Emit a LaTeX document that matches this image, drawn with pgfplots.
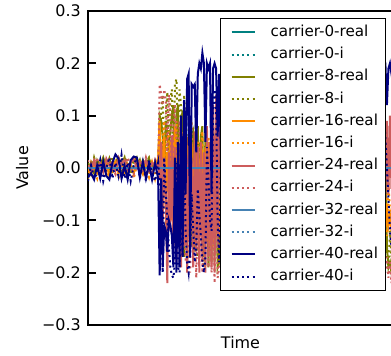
\documentclass[border=0pt]{standalone}
\usepackage{pgfplots}
\pgfplotsset{compat=1.18}
\usepackage{fontspec}
\setmainfont{DejaVu Sans}
\definecolor{cteal}{RGB}{0,128,128}
\definecolor{colive}{RGB}{128,128,0}
\definecolor{corange}{RGB}{255,140,0}
\definecolor{cred}{RGB}{205,92,92}
\definecolor{csteel}{RGB}{70,130,180}
\definecolor{cnavy}{RGB}{0,0,128}
\begin{document}
\begin{tikzpicture}
\useasboundingbox (0,0) rectangle (391bp,356bp);
\clip (0,0) rectangle (391bp,356bp);
\begin{axis}[
  at={(88bp,31bp)}, anchor=south west,
  scale only axis, width=305bp, height=314bp,
  xmin=0, xmax=100, ymin=-0.3, ymax=0.3,
  xtick=\empty,
  ytick={-0.3,-0.2,-0.1,0,0.1,0.2,0.3},
  yticklabels={−0.3,−0.2,−0.1,0.0,0.1,0.2,0.3},
  ytick pos=left,
  tick align=inside,
  major tick length=8bp,
  every tick/.style={black, line width=2bp},
  axis line style={line width=2.7bp},
  ticklabel style={font=\fontsize{16}{19}\selectfont},
  yticklabel style={inner sep=0pt, xshift=-7bp},
  xlabel={Time}, ylabel={Value},
  every axis x label/.style={at={(axis description cs:0.5,-0.057)}, anchor=center, font=\fontsize{16}{19}\selectfont},
  every axis y label/.style={at={(axis description cs:-0.216,0.5)}, rotate=90, anchor=center, font=\fontsize{16}{19}\selectfont},
  legend cell align=left,
  legend style={at={(0.975,0.978)}, anchor=north east, draw=black, line width=0.8bp, fill=white,
    font=\fontsize{15.2}{18}\selectfont, inner xsep=4bp, inner ysep=3bp, row sep=0pt,
    /tikz/every odd column/.append style={column sep=12bp},
    nodes={inner xsep=3bp, inner ysep=3.1bp, text height=12bp, text depth=4bp}},
  legend image code/.code={\path (0bp,0bp); \draw[#1] (6bp,0bp) -- (29bp,0bp);},
  real/.style={line width=2bp},
  imag/.style={line width=2bp, dash pattern=on 2bp off 3.3bp},
]
\addplot[real, cteal] coordinates {(0,0) (100,0)};
\addlegendentry{carrier-0-real}
\addplot[imag, cteal] coordinates {(0,0) (100,0)};
\addlegendentry{carrier-0-i}
\addplot[real, colive] coordinates {
(0,-0.005) (1,0.01) (2,-0.01) (3,0.015) (4,0.005) (5,0.02) (6,0.0) (7,0.018) (8,-0.005) (9,0.012) (10,0.02) (11,0.005) (12,0.02) (13,-0.005) (14,0.012) (15,0.01) (16,0.02) (17,0.0) (18,0.015) (19,0.005) (20,0.018) (21,0.0) (22,0.01) (23,0.0)
(23.5,0.10) (24,0.09) (24.5,0.06) (25,-0.02) (25.5,0.09) (26,0.06) (26.5,0.04) (27,0.07) (27.5,0.10) (28,0.12) (28.5,-0.1) (29,0.10) (29.5,0.12) (30,-0.15) (30.5,0.08) (31,0.11) (31.5,-0.17) (32,0.05) (32.5,-0.19) (33,0.03) (33.5,-0.05) (34,0.06) (34.5,0.07) (35,-0.16) (35.5,0.05) (36,0.08) (36.5,-0.12) (37,0.06) (37.5,0.08) (38,-0.17) (38.5,0.07) (39,0.06) (39.5,-0.19) (40,0.02) (40.5,-0.18) (41,0.09) (41.5,-0.1) (42,0.08) (42.5,-0.19) (43,-0.18)
(44,0.1) (46,-0.15) (48,0.12) (50,-0.19) (52,0.06) (54,0.1) (56,-0.18) (58,0.08) (60,-0.12) (62,0.14) (64,-0.19) (66,0.05) (68,-0.1) (70,0.12) (72,-0.18) (74,0.09) (76,-0.05) (78,0.13) (80,-0.19) (82,0.07) (84,-0.16) (86,0.11) (88,-0.08) (90,0.1) (92,-0.19) (94,0.06) (96,0.08) (97,0.09) (97.5,0.07) (98,-0.15) (98.5,-0.19) (99,-0.18) (99.5,-0.2) (100,-0.17)};
\addlegendentry{carrier-8-real}
\addplot[imag, colive] coordinates {
(0,0.01) (1,-0.01) (2,0.02) (3,0.0) (4,-0.015) (5,0.015) (6,0.005) (7,-0.01) (8,0.02) (9,0.0) (10,0.015) (11,-0.005) (12,0.02) (13,0.01) (14,-0.01) (15,0.018) (16,0.0) (17,0.015) (18,-0.012) (19,0.01) (20,0.02) (21,-0.005) (22,0.012) (23,0.0)
(23.5,0.05) (24,0.11) (24.5,0.14) (25,-0.05) (25.5,0.10) (26,0.145) (26.5,0.02) (27,0.13) (27.5,0.15) (28,-0.08) (28.5,0.16) (29,0.17) (29.5,0.06) (30,0.15) (30.5,0.12) (31,-0.12) (31.5,0.14) (32,0.08) (32.5,-0.18) (33,0.10) (33.5,0.03) (34,-0.15) (34.5,0.04) (35,-0.1) (35.5,0.0) (36,-0.17) (36.5,0.05) (37,-0.12) (37.5,0.02) (38,-0.19) (38.5,-0.05) (39,0.03) (39.5,-0.16) (40,0.01) (40.5,-0.12) (41,0.05) (41.5,-0.18) (42,0.02) (42.5,-0.1) (43,0.04)
(44,-0.12) (46,0.15) (48,-0.05) (50,0.1) (52,-0.17) (54,0.04) (56,0.13) (58,-0.19) (60,0.08) (62,-0.02) (64,0.16) (66,-0.14) (68,0.06) (70,-0.18) (72,0.11) (74,-0.06) (76,0.15) (78,-0.16) (80,0.03) (82,0.12) (84,-0.19) (86,0.05) (88,0.14) (90,-0.12) (92,0.08) (94,-0.17) (96,0.1) (97,-0.14) (97.5,-0.18) (98,-0.16) (98.5,-0.19) (99,-0.12) (99.5,-0.17) (100,-0.1)};
\addlegendentry{carrier-8-i}
\addplot[real, corange] coordinates {
(0,0.0) (1,-0.012) (2,0.005) (3,-0.01) (4,0.008) (5,-0.005) (6,0.01) (7,-0.015) (8,0.0) (9,0.012) (10,-0.01) (11,0.005) (12,-0.012) (13,0.008) (14,0.0) (15,-0.01) (16,0.012) (17,0.0) (18,-0.012) (19,0.01) (20,-0.005) (21,0.012) (22,0.0) (23,0.02)
(23.5,0.09) (24,-0.03) (24.5,0.02) (25,0.06) (25.5,-0.08) (26,0.03) (26.5,-0.05) (27,0.05) (27.5,-0.1) (28,0.02) (28.5,0.08) (29,-0.06) (29.5,0.05) (30,-0.12) (30.5,0.02) (31,0.04) (31.5,-0.08) (32,0.03) (32.5,0.06) (33,-0.11) (33.5,0.02) (34,0.05) (34.5,-0.13) (35,0.04) (35.5,-0.02) (36,0.03) (36.5,-0.09) (37,0.05) (37.5,0.02) (38,-0.12) (38.5,0.04) (39,-0.03) (39.5,0.05) (40,-0.15) (40.5,0.03) (41,-0.06) (41.5,0.04) (42,0.02) (42.5,-0.13) (43,0.03)
(44,0.04) (46,-0.12) (48,0.06) (50,-0.03) (52,0.05) (54,-0.14) (56,0.02) (58,0.07) (60,-0.1) (62,0.03) (64,-0.06) (66,0.05) (68,-0.15) (70,0.04) (72,0.01) (74,-0.11) (76,0.06) (78,-0.04) (80,0.03) (82,-0.13) (84,0.05) (86,-0.07) (88,0.04) (90,-0.12) (92,0.02) (94,0.06) (96,-0.08) (97,-0.06) (97.5,-0.12) (98,-0.07) (98.5,-0.11) (99,-0.09) (99.5,-0.12) (100,-0.05)};
\addlegendentry{carrier-16-real}
\addplot[imag, corange] coordinates {
(0,-0.02) (1,0.01) (2,-0.005) (3,-0.02) (4,0.012) (5,0.0) (6,-0.018) (7,0.01) (8,-0.012) (9,0.005) (10,-0.02) (11,0.012) (12,0.0) (13,-0.015) (14,0.01) (15,-0.02) (16,0.005) (17,0.012) (18,-0.01) (19,0.0) (20,-0.018) (21,0.01) (22,-0.02) (23,0.01)
(23.5,0.08) (24,-0.05) (24.5,0.06) (25,0.09) (25.5,-0.12) (26,0.05) (26.5,0.07) (27,-0.08) (27.5,0.06) (28,-0.15) (28.5,0.04) (29,0.09) (29.5,-0.1) (30,0.03) (30.5,-0.14) (31,0.07) (31.5,0.01) (32,-0.12) (32.5,0.05) (33,-0.08) (33.5,0.04) (34,0.09) (34.5,-0.15) (35,0.02) (35.5,-0.06) (36,0.05) (36.5,-0.12) (37,0.03) (37.5,0.07) (38,-0.1) (38.5,0.02) (39,-0.14) (39.5,0.06) (40,-0.05) (40.5,0.03) (41,-0.15) (41.5,0.05) (42,-0.1) (42.5,0.02) (43,-0.13)
(44,0.06) (46,-0.09) (48,0.03) (50,-0.14) (52,0.08) (54,-0.02) (56,-0.12) (58,0.05) (60,-0.07) (62,0.09) (64,-0.15) (66,0.02) (68,0.06) (70,-0.11) (72,0.04) (74,-0.13) (76,0.07) (78,-0.05) (80,0.08) (82,-0.1) (84,0.03) (86,-0.14) (88,0.06) (90,-0.04) (92,0.09) (94,-0.12) (96,0.04) (97,-0.1) (97.5,-0.05) (98,-0.13) (98.5,-0.02) (99,-0.08) (99.5,-0.11) (100,-0.03)};
\addlegendentry{carrier-16-i}
\addplot[real, cred] coordinates {
(0,0.005) (1,-0.005) (2,0.015) (3,0.0) (4,0.01) (5,-0.008) (6,0.018) (7,0.005) (8,0.012) (9,-0.005) (10,0.02) (11,0.008) (12,0.015) (13,-0.003) (14,0.01) (15,0.018) (16,0.0) (17,0.012) (18,0.005) (19,0.015) (20,-0.005) (21,0.01) (22,0.005) (23,0.01)
(23.5,-0.02) (24,0.05) (24.5,-0.1) (25,0.02) (25.5,-0.05) (26,-0.22) (26.5,0.03) (27,-0.12) (27.5,0.06) (28,-0.15) (28.5,0.04) (29,-0.18) (29.5,0.02) (30,-0.05) (30.5,-0.19) (31,0.06) (31.5,-0.15) (32,0.03) (32.5,-0.2) (33,0.05) (33.5,-0.12) (34,0.02) (34.5,-0.19) (35,0.07) (35.5,-0.16) (36,0.04) (36.5,-0.2) (37,0.05) (37.5,-0.18) (38,0.03) (38.5,-0.2) (39,0.08) (39.5,-0.17) (40,0.05) (40.5,-0.19) (41,0.12) (41.5,-0.2) (42,0.14) (42.5,-0.15) (43,0.13)
(44,-0.18) (46,0.1) (48,-0.2) (50,0.06) (52,-0.14) (54,0.12) (56,-0.19) (58,0.04) (60,-0.17) (62,0.09) (64,-0.21) (66,0.07) (68,-0.13) (70,0.11) (72,-0.2) (74,0.05) (76,-0.16) (78,0.1) (80,-0.19) (82,0.08) (84,-0.15) (86,0.12) (88,-0.2) (90,0.06) (92,-0.18) (94,0.1) (96,-0.06) (97,0.1) (97.5,-0.06) (98,0.09) (98.5,-0.05) (99,0.1) (99.5,-0.04) (100,0.08)};
\addlegendentry{carrier-24-real}
\addplot[imag, cred] coordinates {
(0,0.015) (1,-0.01) (2,0.0) (3,0.02) (4,-0.015) (5,0.01) (6,-0.005) (7,0.02) (8,0.0) (9,-0.012) (10,0.015) (11,0.0) (12,-0.01) (13,0.02) (14,0.005) (15,-0.012) (16,0.015) (17,0.0) (18,-0.008) (19,0.02) (20,0.0) (21,-0.012) (22,0.015) (23,0.0)
(23.5,0.16) (24,0.14) (24.5,0.12) (25,0.15) (25.5,0.13) (26,0.03) (26.5,0.14) (27,0.10) (27.5,-0.05) (28,0.08) (28.5,0.12) (29,0.06) (29.5,-0.1) (30,0.09) (30.5,0.03) (31,-0.13) (31.5,0.05) (32,-0.18) (32.5,0.02) (33,-0.15) (33.5,-0.2) (34,0.0) (34.5,-0.17) (35,-0.08) (35.5,-0.21) (36,-0.05) (36.5,-0.18) (37,0.02) (37.5,-0.2) (38,-0.1) (38.5,-0.16) (39,0.04) (39.5,-0.19) (40,-0.03) (40.5,-0.2) (41,0.06) (41.5,-0.22) (42,0.08) (42.5,-0.21) (43,-0.19)
(44,0.08) (46,-0.21) (48,0.03) (50,-0.17) (52,0.1) (54,-0.2) (56,-0.06) (58,0.12) (60,-0.22) (62,0.0) (64,-0.15) (66,0.09) (68,-0.19) (70,-0.04) (72,0.11) (74,-0.21) (76,0.02) (78,-0.16) (80,0.07) (82,-0.2) (84,-0.08) (86,0.1) (88,-0.22) (90,0.01) (92,-0.14) (94,0.06) (96,-0.19) (97,-0.16) (97.5,-0.2) (98,-0.17) (98.5,-0.21) (99,-0.18) (99.5,-0.22) (100,-0.15)};
\addlegendentry{carrier-24-i}
\addplot[real, csteel] coordinates {(0,0) (100,0)};
\addlegendentry{carrier-32-real}
\addplot[imag, csteel] coordinates {(0,0) (100,0)};
\addlegendentry{carrier-32-i}
\addplot[real, cnavy] coordinates {
(0,-0.018) (1,-0.010) (2,-0.022) (3,0.005) (4,-0.020) (5,0.012) (6,-0.015) (7,-0.022) (8,0.010) (9,0.026) (10,0.018) (11,-0.020) (12,0.004) (13,-0.022) (14,0.015) (15,0.022) (16,0.020) (17,-0.018) (18,0.012) (19,-0.020) (20,0.008) (21,-0.022) (22,0.010) (23,-0.020)
(23.5,-0.205) (24,-0.02) (24.5,-0.19) (25,-0.11) (25.5,-0.12) (26,-0.16) (26.5,-0.10) (27,-0.11) (27.5,-0.13) (28,-0.19) (28.5,0.02) (29,-0.20) (29.5,0.05) (30,-0.19) (30.5,0.10) (31,-0.17) (31.5,0.13) (32,-0.05) (32.5,0.17) (33,0.18) (33.5,-0.17) (34,0.16) (34.5,0.155) (35,0.16) (35.5,0.03) (36,0.18) (36.5,0.20) (37,0.19) (37.5,0.22) (38,0.20) (38.5,0.05) (39,0.20) (39.5,0.19) (40,0.20) (40.5,-0.05) (41,0.19) (41.5,0.20) (42,0.19) (42.5,0.06) (43,0.18)
(44,-0.10) (46,0.15) (48,-0.18) (50,0.10) (52,0.20) (54,-0.05) (56,0.18) (58,-0.15) (60,0.12) (62,0.05) (64,-0.2) (66,0.19) (68,0.0) (70,0.21) (72,-0.12) (74,0.15) (76,-0.18) (78,0.20) (80,0.08) (82,-0.10) (84,0.18) (86,-0.16) (88,0.20) (90,0.02) (92,0.19) (94,-0.08) (96,0.20) (97,0.21) (97.5,0.20) (98,0.12) (98.5,0.19) (99,0.20) (99.5,0.18) (100,0.19)};
\addlegendentry{carrier-40-real}
\addplot[imag, cnavy] coordinates {
(0,-0.025) (1,0.005) (2,-0.02) (3,-0.01) (4,0.015) (5,-0.025) (6,0.0) (7,0.02) (8,-0.02) (9,0.01) (10,-0.015) (11,0.025) (12,-0.02) (13,0.01) (14,-0.025) (15,0.005) (16,0.02) (17,-0.02) (18,0.01) (19,-0.025) (20,0.015) (21,-0.01) (22,-0.025) (23,0.01)
(23.5,-0.03) (24,-0.05) (24.5,-0.20) (25,0.02) (25.5,-0.04) (26,-0.10) (26.5,-0.15) (27,-0.19) (27.5,-0.205) (28,-0.21) (28.5,-0.18) (29,0.01) (29.5,-0.19) (30,-0.2) (30.5,-0.05) (31,-0.17) (31.5,0.02) (32,-0.12) (32.5,-0.18) (33,-0.2) (33.5,-0.16) (34,-0.05) (34.5,-0.12) (35,-0.18) (35.5,-0.15) (36,-0.04) (36.5,-0.09) (37,-0.13) (37.5,-0.18) (38,-0.2) (38.5,-0.17) (39,0.04) (39.5,-0.02) (40,-0.1) (40.5,-0.12) (41,0.10) (41.5,0.15) (42,0.12) (42.5,-0.1) (43,-0.18)
(44,0.14) (46,-0.18) (48,0.05) (50,-0.12) (52,0.16) (54,-0.2) (56,0.08) (58,-0.05) (60,0.15) (62,-0.17) (64,0.1) (66,-0.1) (68,0.18) (70,-0.19) (72,0.02) (74,0.12) (76,-0.14) (78,0.06) (80,-0.2) (82,0.14) (84,-0.06) (86,0.17) (88,-0.15) (90,0.09) (92,-0.18) (94,0.13) (96,0.15) (97,0.12) (97.5,0.06) (98,0.0) (98.5,-0.06) (99,-0.12) (99.5,-0.15) (100,-0.05)};
\addlegendentry{carrier-40-i}
\end{axis}
\end{tikzpicture}
\end{document}
